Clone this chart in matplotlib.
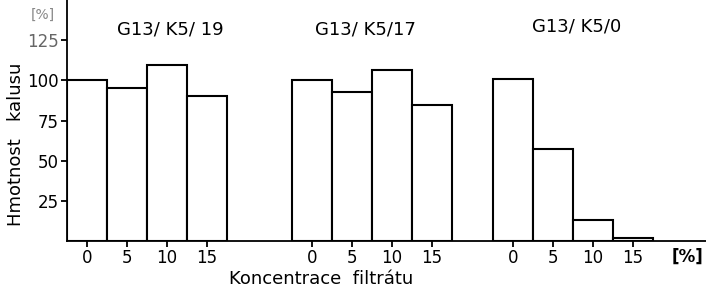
import matplotlib
matplotlib.use("Agg")
import matplotlib.pyplot as plt
import numpy as np

# concentration of filtrate [%]
conc = [0, 5, 10, 15]
# callus weight [%] for each strain
g19 = [100, 95.5, 109.5, 90.5]
g17 = [100, 93, 106.5, 84.5]
g0 = [101, 57, 13, 2]
groups = ["G13/ K5/ 19", "G13/ K5/17", "G13/ K5/0"]
yticks = [25, 50, 75, 100, 125]

plt.rcParams['font.family'] = ['DejaVu Sans']

fig = plt.figure(figsize=(7.06, 2.89), dpi=100)
ax = fig.add_axes([0.0949, 0.166, 0.9051, 0.834])

starts = [0, 5.625, 10.65]
lw = 1.5
centers = []
for start, vals in zip(starts, [g19, g17, g0]):
    x = start + 0.5 + np.arange(len(vals))
    ax.bar(x, vals, width=1.0, facecolor='white', edgecolor='black',
           linewidth=lw, zorder=2)
    centers.extend(x)

ax.set_xlim(0, 15.975)
ax.set_ylim(0, 150)

ax.set_xticks(centers)
ax.set_xticklabels([str(c) for c in conc] * 3, fontsize=12)
ax.set_yticks(yticks)
ax.set_yticklabels([str(v) for v in yticks], fontsize=12)
ax.get_yticklabels()[-1].set_color('#666666')

ax.tick_params(axis='both', direction='out', length=4, width=1.3, pad=2)
ax.spines['top'].set_visible(False)
ax.spines['right'].set_visible(False)
ax.spines['left'].set_linewidth(1.3)
ax.spines['bottom'].set_linewidth(1.3)

title_pos = [(2.575, 131.5), (7.45, 131.5), (12.75, 133.5)]
for (tx, ty), name in zip(title_pos, groups):
    ax.text(tx, ty, name, ha='center', va='center', fontsize=13)

fig.text(0.455, 0.035, "Koncentrace  filtrátu", ha='center', va='center', fontsize=13)
fig.text(0.974, 0.11, "[%]", ha='center', va='center', fontsize=12, fontweight='bold')
fig.text(0.061, 0.95, "[%]", ha='center', va='center', fontsize=10, color='#888888')
fig.text(0.022, 0.5, "Hmotnost   kalusu", ha='center', va='center', fontsize=13,
         rotation=90)

fig.savefig("out.png", dpi=100)
